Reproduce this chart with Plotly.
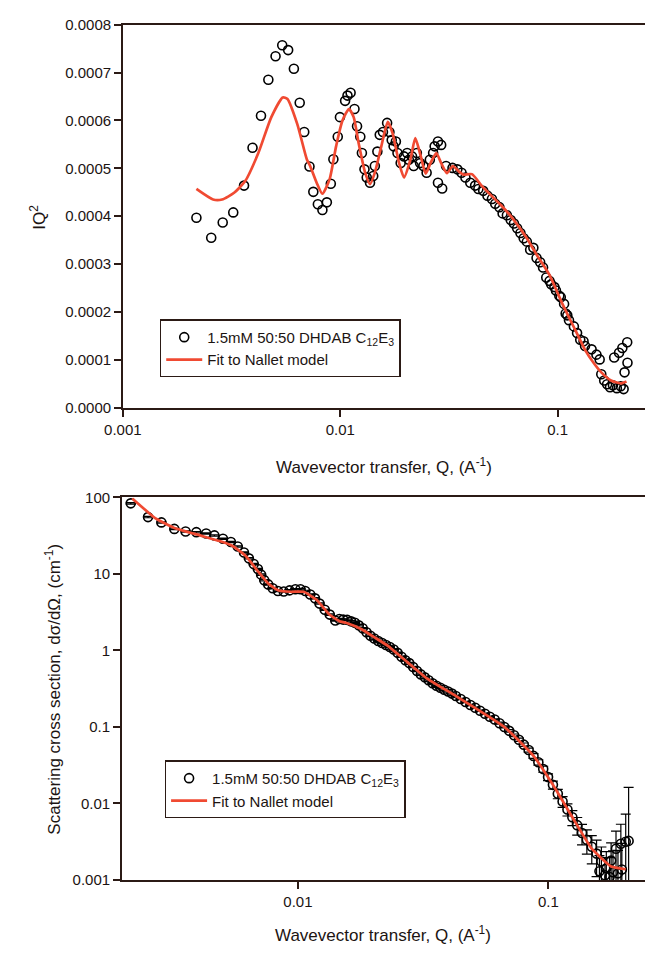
import plotly.graph_objects as go

# ---- Upper panel: Kratky-style IQ^2 vs Q ----
q_top = [0.00218, 0.00255, 0.00288, 0.00322, 0.00361, 0.00395, 0.00432, 0.00467, 0.00504, 0.00541,
         0.00576, 0.00612, 0.00651, 0.00683, 0.00722, 0.00752, 0.00789, 0.00828, 0.00868, 0.00905,
         0.00930, 0.00974, 0.00997, 0.01053, 0.0108, 0.01116, 0.01163, 0.01195, 0.01237, 0.01258,
         0.01293, 0.01324, 0.01371, 0.01418, 0.01443, 0.01482, 0.0152, 0.01572, 0.01643, 0.01684,
         0.01725, 0.0176, 0.01803, 0.01834, 0.01897, 0.01965, 0.02032, 0.02068, 0.0214, 0.02177,
         0.02252, 0.0233, 0.02413, 0.02497, 0.02583, 0.02675, 0.02719, 0.02816, 0.02816, 0.02913,
         0.02944, 0.03067, 0.03285, 0.03458, 0.03614, 0.03766, 0.03965, 0.04174, 0.0432, 0.04547,
         0.04757, 0.04987, 0.05164, 0.05398, 0.05585, 0.05843, 0.06088, 0.06297, 0.06514, 0.06745,
         0.06979, 0.07219, 0.07476, 0.07734, 0.08001, 0.08311, 0.0857, 0.08867, 0.09183, 0.09337,
         0.09667, 0.09826, 0.1018, 0.1034, 0.1071, 0.1089, 0.1108, 0.1128, 0.1188, 0.1229,
         0.1271, 0.1316, 0.1337, 0.1433, 0.1509, 0.1561, 0.1588, 0.1638, 0.1689, 0.1742,
         0.1797, 0.1821, 0.1873, 0.1917, 0.1951, 0.1985, 0.2012, 0.2032, 0.209, 0.2096]
iq2_top = [3.97e-4, 3.55e-4, 3.87e-4, 4.08e-4, 4.64e-4, 5.43e-4, 6.10e-4, 6.85e-4, 7.34e-4, 7.57e-4,
           7.47e-4, 7.08e-4, 6.37e-4, 5.76e-4, 5.04e-4, 4.51e-4, 4.25e-4, 4.13e-4, 4.29e-4, 4.68e-4,
           5.19e-4, 5.66e-4, 6.07e-4, 6.41e-4, 6.52e-4, 6.58e-4, 6.24e-4, 5.88e-4, 5.66e-4, 5.32e-4,
           4.98e-4, 4.81e-4, 4.70e-4, 4.84e-4, 5.05e-4, 5.35e-4, 5.70e-4, 5.76e-4, 5.95e-4, 5.76e-4,
           5.59e-4, 5.46e-4, 5.56e-4, 5.32e-4, 5.11e-4, 5.25e-4, 5.32e-4, 5.18e-4, 5.25e-4, 5.05e-4,
           5.32e-4, 5.11e-4, 5.05e-4, 4.91e-4, 5.18e-4, 5.32e-4, 5.46e-4, 5.56e-4, 4.70e-4, 5.49e-4,
           4.58e-4, 5.05e-4, 5.01e-4, 4.98e-4, 4.91e-4, 4.81e-4, 4.70e-4, 4.64e-4, 4.57e-4, 4.53e-4,
           4.43e-4, 4.36e-4, 4.26e-4, 4.19e-4, 4.06e-4, 4.02e-4, 3.92e-4, 3.85e-4, 3.75e-4, 3.65e-4,
           3.54e-4, 3.47e-4, 3.30e-4, 3.34e-4, 3.13e-4, 3.04e-4, 2.93e-4, 2.72e-4, 2.65e-4, 2.58e-4,
           2.52e-4, 2.45e-4, 2.34e-4, 2.31e-4, 2.17e-4, 1.97e-4, 1.93e-4, 1.83e-4, 1.70e-4, 1.56e-4,
           1.42e-4, 1.39e-4, 1.29e-4, 1.22e-4, 1.11e-4, 1.01e-4, 0.70e-4, 0.57e-4, 0.49e-4, 0.43e-4,
           0.47e-4, 1.05e-4, 0.41e-4, 1.15e-4, 0.45e-4, 1.25e-4, 0.39e-4, 0.74e-4, 1.37e-4, 0.94e-4]

q_fit_top = [0.00218, 0.00260, 0.00286, 0.00325, 0.00366, 0.0042, 0.00482, 0.00544, 0.00572, 0.00634,
             0.00703, 0.00727, 0.00779, 0.00828, 0.00893, 0.00957, 0.01024, 0.01097, 0.01153, 0.01216,
             0.01302, 0.01371, 0.01443, 0.01545, 0.01655, 0.01742, 0.01866, 0.01965, 0.02103, 0.02214,
             0.02348, 0.02471, 0.02602, 0.02767, 0.02913, 0.03098, 0.03295, 0.03504, 0.03689, 0.04035,
             0.04471, 0.04955, 0.05492, 0.06297, 0.07219, 0.08001, 0.09183, 0.1052, 0.1207, 0.1337,
             0.1463, 0.1588, 0.176, 0.1951, 0.2075]
iq2_fit_top = [4.57e-4, 4.35e-4, 4.35e-4, 4.49e-4, 4.74e-4, 5.32e-4, 6.07e-4, 6.48e-4, 6.45e-4, 5.93e-4,
               5.18e-4, 5.05e-4, 4.70e-4, 4.47e-4, 4.77e-4, 5.46e-4, 6.00e-4, 6.24e-4, 6.07e-4, 5.52e-4,
               4.91e-4, 4.67e-4, 4.91e-4, 5.46e-4, 5.97e-4, 5.73e-4, 5.11e-4, 4.81e-4, 5.18e-4, 5.63e-4,
               5.25e-4, 4.89e-4, 5.11e-4, 5.32e-4, 5.11e-4, 4.90e-4, 5.05e-4, 4.94e-4, 4.87e-4, 4.88e-4,
               4.64e-4, 4.43e-4, 4.23e-4, 3.92e-4, 3.54e-4, 3.20e-4, 2.77e-4, 2.17e-4, 1.62e-4, 1.21e-4,
               0.94e-4, 0.74e-4, 0.57e-4, 0.51e-4, 0.55e-4]

# ---- Lower panel: absolute cross section vs Q ----
q_bot = [0.00215, 0.00252, 0.00285, 0.00321, 0.00356, 0.00393, 0.0043, 0.00464, 0.00502, 0.0054,
         0.00575, 0.00609, 0.00637, 0.00666, 0.00692, 0.00713, 0.00734, 0.00761, 0.00793, 0.00832,
         0.00878, 0.00926, 0.00977, 0.01024, 0.0107, 0.0112, 0.0117, 0.0122, 0.0128, 0.0134,
         0.0141, 0.01464, 0.01517, 0.01573, 0.0163, 0.01689, 0.0175, 0.01814, 0.01879, 0.01948,
         0.02018, 0.02092, 0.02168, 0.02247, 0.02328, 0.02413, 0.025, 0.02592, 0.02686, 0.02783,
         0.02885, 0.0299, 0.03098, 0.03211, 0.03327, 0.03448, 0.03574, 0.03703, 0.03838, 0.03977,
         0.04122, 0.04271, 0.04467, 0.04671, 0.04884, 0.05106, 0.05339, 0.05583, 0.05838, 0.06105,
         0.06383, 0.06675, 0.06979, 0.07298, 0.07631, 0.0798, 0.08344, 0.08725, 0.09123, 0.0954,
         0.09973, 0.1043, 0.1091, 0.114, 0.1192, 0.1247, 0.1304, 0.1363, 0.1425, 0.1491,
         0.1558, 0.16, 0.1629, 0.1684, 0.1704, 0.1755, 0.1781, 0.1812, 0.1863, 0.1897,
         0.1948, 0.1966, 0.2037, 0.2092]
dsdw_bot = [83.7, 55.4, 47.2, 38.8, 35.9, 35.2, 33.8, 31.9, 28.9, 26.2,
            22.8, 19.1, 16.0, 13.5, 11.6, 9.8, 8.3, 7.3, 6.5, 6.0,
            5.9, 6.1, 6.3, 6.3, 6.0, 5.4, 4.8, 4.1, 3.4, 2.94,
            2.46, 2.58, 2.53, 2.51, 2.40, 2.30, 2.13, 1.95, 1.73, 1.56,
            1.43, 1.33, 1.25, 1.18, 1.11, 1.03, 0.931, 0.828, 0.746, 0.683,
            0.607, 0.539, 0.486, 0.445, 0.407, 0.373, 0.346, 0.326, 0.307, 0.290,
            0.273, 0.254, 0.232, 0.212, 0.194, 0.178, 0.163, 0.149, 0.136, 0.125,
            0.112, 0.100, 0.0889, 0.0778, 0.0681, 0.0587, 0.0499, 0.0418, 0.0345, 0.0281,
            0.0221, 0.0175, 0.0134, 0.0106, 0.00835, 0.00659, 0.0052, 0.0041, 0.00334, 0.00271,
            0.00221, 0.0013, 0.00174, 0.00115, 0.00142, 0.00109, 0.00179, 0.00126, 0.00256, 0.00122,
            0.00297, 0.00137, 0.00315, 0.00324]
# relative uncertainty of each lower-panel point
rel_err_bot = [0.02] * 70 + [0.03, 0.03, 0.04, 0.04, 0.05, 0.05, 0.06, 0.07, 0.08, 0.09,
                             0.10, 0.12, 0.14, 0.16, 0.18, 0.22, 0.26, 0.30, 0.35, 0.40,
                             0.50, 0.60, 0.55, 0.70, 0.65, 0.80, 0.70, 0.90, 0.70, 1.0,
                             0.80, 1.2, 1.3, 4.0]
err_bot = [v * r for v, r in zip(dsdw_bot, rel_err_bot)]

q_fit_bot = [0.00218, 0.00269, 0.00321, 0.00407, 0.00487, 0.00548, 0.00618, 0.00696, 0.00761, 0.00832,
             0.00937, 0.01055, 0.01189, 0.01339, 0.01464, 0.01554, 0.01803, 0.02031, 0.02287, 0.02734,
             0.03267, 0.04271, 0.06675, 0.08725, 0.1043, 0.1247, 0.1491, 0.1781, 0.2037]
dsdw_fit_bot = [97.1, 53.8, 40.0, 31.9, 26.9, 23.2, 17.3, 10.6, 7.48, 6.14,
                5.85, 5.85, 4.57, 2.93, 2.41, 2.30, 1.88, 1.47, 1.15, 0.704,
                0.432, 0.254, 0.100, 0.0418, 0.0175, 0.00659, 0.00256, 0.00150, 0.00138]

FONT = "Liberation Sans, Arial, sans-serif"
INK = "#1c1412"
AXIS = "#2b1a15"
RED = "#f04a32"
W, H = 645, 956

sample_name = "1.5mM 50:50 DHDAB C<sub>12</sub>E<sub>3</sub>"
fit_name = "Fit to Nallet model"

fig = go.Figure()

marker_style = dict(symbol="circle-open", size=9, color="black", line=dict(width=1.6, color="black"))

fig.add_trace(go.Scatter(x=q_top, y=iq2_top, mode="markers", name=sample_name,
                         marker=marker_style, xaxis="x", yaxis="y", legend="legend"))
fig.add_trace(go.Scatter(x=q_fit_top, y=iq2_fit_top, mode="lines", name=fit_name,
                         line=dict(color=RED, width=2.7, shape="spline", smoothing=0.6),
                         xaxis="x", yaxis="y", legend="legend"))

fig.add_trace(go.Scatter(x=q_bot, y=dsdw_bot, mode="markers", name=sample_name,
                         marker=marker_style,
                         error_y=dict(type="data", array=err_bot, color="black", thickness=1.2, width=5),
                         xaxis="x2", yaxis="y2", legend="legend2"))
fig.add_trace(go.Scatter(x=q_fit_bot, y=dsdw_fit_bot, mode="lines", name=fit_name,
                         line=dict(color=RED, width=2.7, shape="spline", smoothing=0.4),
                         xaxis="x2", yaxis="y2", legend="legend2"))

axis_common = dict(showline=True, linecolor=AXIS, linewidth=1.5, ticks="outside", ticklen=7,
                   tickwidth=1.5, tickcolor=AXIS, showgrid=False, zeroline=False,
                   tickfont=dict(family=FONT, size=15, color=INK))

legend_common = dict(bgcolor="white", bordercolor=AXIS, borderwidth=1.5,
                     font=dict(family=FONT, size=15, color=INK),
                     xanchor="left", yanchor="top", itemwidth=36, tracegroupgap=0)

fig.update_layout(
    width=W, height=H,
    margin=dict(l=0, r=0, t=0, b=0),
    paper_bgcolor="white", plot_bgcolor="white",
    font=dict(family=FONT, size=15, color=INK),
    xaxis=dict(type="log", range=[-3, -0.598], domain=[107 / W, 1.0], anchor="y",
               tickvals=[0.001, 0.01, 0.1], ticktext=["0.001", "0.01", "0.1"],
               mirror=True, **axis_common),
    yaxis=dict(range=[0, 0.0008], domain=[1 - 406 / H, 1 - 16 / H], anchor="x",
               tickvals=[i * 0.0001 for i in range(9)], tickformat=".4f", **axis_common),
    xaxis2=dict(type="log", range=[-2.703, -0.614], domain=[106 / W, 1.0], anchor="y2",
                tickvals=[0.01, 0.1], ticktext=["0.01", "0.1"], mirror=True, **axis_common),
    yaxis2=dict(type="log", range=[-3, 2], domain=[1 - 886.7 / H, 1 - 497.3 / H], anchor="x2",
                tickvals=[0.001, 0.01, 0.1, 1, 10, 100],
                ticktext=["0.001", "0.01", "0.1", "1", "10", "100"], **axis_common),
    legend=dict(x=145 / W, y=1 - 316 / H, **legend_common),
    legend2=dict(x=150 / W, y=1 - 765 / H, **legend_common),
    showlegend=True,
)

title_font = dict(family=FONT, size=17, color=INK)
fig.add_annotation(text="Wavevector transfer, Q, (A<sup>-1</sup>)", xref="paper", yref="paper",
                   x=(107 / W + 1) / 2, y=1 - 465 / H, showarrow=False, font=title_font,
                   xanchor="center", yanchor="middle")
fig.add_annotation(text="Wavevector transfer, Q, (A<sup>-1</sup>)", xref="paper", yref="paper",
                   x=(106 / W + 1) / 2, y=1 - 942 / H, showarrow=False, font=title_font,
                   xanchor="center", yanchor="middle")
fig.add_annotation(text="IQ<sup>2</sup>", xref="paper", yref="paper", textangle=-90,
                   x=20 / W, y=1 - 212 / H, showarrow=False, font=title_font,
                   xanchor="center", yanchor="middle")
fig.add_annotation(text="Scattering cross section, d\u03c3/d\u03a9, (cm<sup>-1</sup>)",
                   xref="paper", yref="paper", textangle=-90,
                   x=35 / W, y=1 - 692 / H, showarrow=False, font=title_font,
                   xanchor="center", yanchor="middle")

fig.write_html("out.html")
